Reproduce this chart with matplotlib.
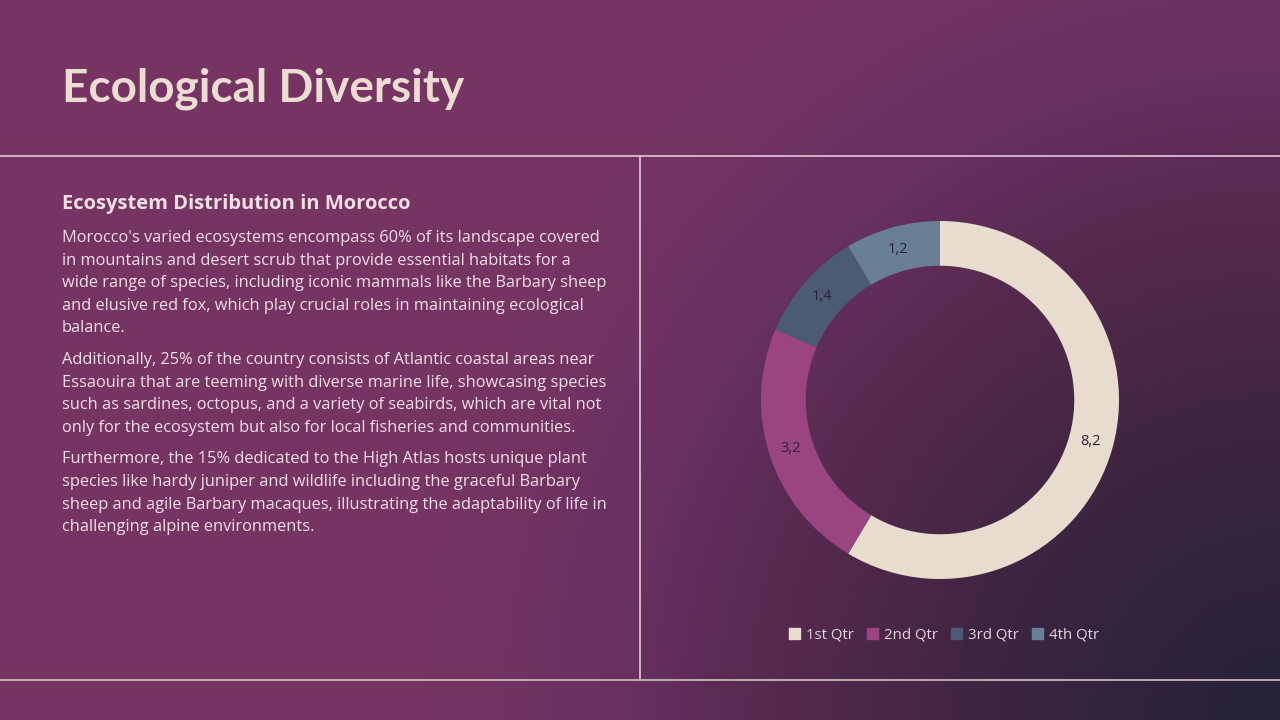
import matplotlib
matplotlib.use("Agg")
import matplotlib.pyplot as plt
import numpy as np
from matplotlib.colors import LinearSegmentedColormap

plt.rcParams["font.family"] = ["Open Sans", "DejaVu Sans"]

# ---- data ----
title = "Ecological Diversity"
subtitle = "Ecosystem Distribution in Morocco"
paragraphs = [
    ["Morocco's varied ecosystems encompass 60% of its landscape covered",
     "in mountains and desert scrub that provide essential habitats for a",
     "wide range of species, including iconic mammals like the Barbary sheep",
     "and elusive red fox, which play crucial roles in maintaining ecological",
     "balance."],
    ["Additionally, 25% of the country consists of Atlantic coastal areas near",
     "Essaouira that are teeming with diverse marine life, showcasing species",
     "such as sardines, octopus, and a variety of seabirds, which are vital not",
     "only for the ecosystem but also for local fisheries and communities."],
    ["Furthermore, the 15% dedicated to the High Atlas hosts unique plant",
     "species like hardy juniper and wildlife including the graceful Barbary",
     "sheep and agile Barbary macaques, illustrating the adaptability of life in",
     "challenging alpine environments."],
]
categories = ["1st Qtr", "2nd Qtr", "3rd Qtr", "4th Qtr"]
values = [8.2, 3.2, 1.4, 1.2]
colors = ["#e8dccf", "#9b4580", "#4b5b73", "#687f95"]

W, H = 1280, 720
fig = plt.figure(figsize=(W / 100, H / 100), dpi=100)

# background: dark glow from the bottom-right corner
bg = fig.add_axes([0, 0, 1, 1])
xx, yy = np.meshgrid(np.linspace(0, W, 320), np.linspace(0, H, 180))
d = np.clip(np.hypot(xx - W, yy - H) / 900, 0, 1)
cmap = LinearSegmentedColormap.from_list(
    "bg", [(0, "#25223a"), (0.31, "#3c2540"), (0.55, "#55294d"),
           (0.72, "#663060"), (0.9, "#743462"), (1, "#763462")])
bg.imshow(d, cmap=cmap, extent=[0, W, H, 0], aspect="auto", vmin=0, vmax=1)
bg.set_xlim(0, W)
bg.set_ylim(H, 0)
bg.axis("off")

line_col = "#d9bccd"
bg.plot([0, W], [156, 156], color=line_col, lw=1.3)
bg.plot([640, 640], [156, 680], color=line_col, lw=1.3)
bg.plot([0, W], [680, 680], color="#c8b4bc", lw=1.3)

bg.text(62, 89, title, fontsize=33, fontweight="bold", color="#ecdcd2",
        va="center", ha="left", family=["Lato", "DejaVu Sans"])
bg.text(62, 204, subtitle, fontsize=14.5, fontweight="bold", color="#f0dfe2",
        va="center", ha="left")

y = 238
for para in paragraphs:
    for line in para:
        bg.text(62, y, line, fontsize=11.8, color="#f0dfe8", va="center", ha="left")
        y += 22.6
    y += 9

# donut
r_px = 179
cx, cy = 940, 400
ax = fig.add_axes([(cx - r_px) / W, 1 - (cy + r_px) / H, 2 * r_px / W, 2 * r_px / H])
wedges, _ = ax.pie(values, colors=colors, startangle=90, counterclock=False,
                   radius=1, wedgeprops=dict(width=0.25, linewidth=0))
ax.set_xlim(-1, 1)
ax.set_ylim(-1, 1)
ax.set_aspect("equal")
ax.axis("off")

for w, v in zip(wedges, values):
    ang = np.deg2rad((w.theta1 + w.theta2) / 2)
    rr = 0.875
    ax.text(rr * np.cos(ang), rr * np.sin(ang), f"{v:.1f}".replace(".", ","),
            ha="center", va="center", fontsize=10.5, color="#2b2438")

handles = [plt.Rectangle((0, 0), 1, 1, color=c) for c in colors]
fig.legend(handles, categories, loc="center", bbox_to_anchor=(944 / W, 1 - 635 / H),
           ncol=4, frameon=False, fontsize=10.8, labelcolor="#e6d6e0",
           handlelength=0.7, handleheight=0.7, handletextpad=0.4, columnspacing=0.9)

fig.savefig("out.png", dpi=100)
